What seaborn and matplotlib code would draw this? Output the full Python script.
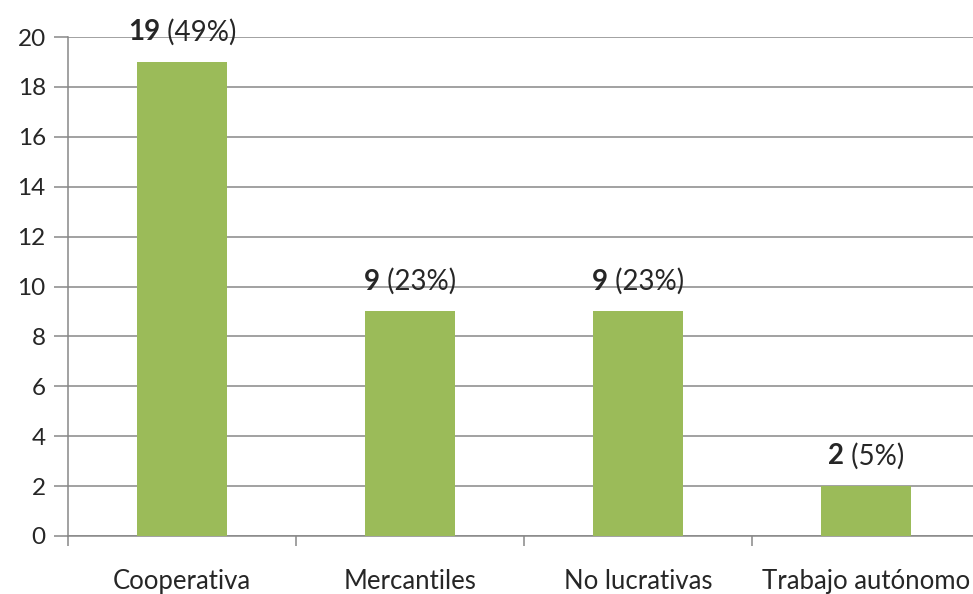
import matplotlib
matplotlib.use('Agg')
import matplotlib.pyplot as plt
import seaborn as sns
import pandas as pd

# chart data
categories = ['Cooperativa', 'Mercantiles', 'No lucrativas', 'Trabajo autónomo']
counts = [19, 9, 9, 2]
percents = [49, 23, 23, 5]

sns.set_style('white')
plt.rcParams['font.family'] = ['Lato', 'DejaVu Sans']

df = pd.DataFrame({'tipo': categories, 'n': counts})

fig = plt.figure(figsize=(9.73, 5.94), dpi=100)
ax = fig.add_axes([68 / 973, 58 / 594, 912 / 973, 499 / 594])

sns.barplot(data=df, x='tipo', y='n', color='#9BBB59', saturation=1,
            width=0.395, linewidth=0, ax=ax, zorder=3)

ax.set_xlim(-0.5, len(categories) - 0.5)
ax.set_ylim(0, 20)
ax.set_yticks(range(0, 21, 2))
ax.yaxis.grid(True, color='#878787', linewidth=1.1, zorder=0)
ax.set_axisbelow(True)
ax.set_xlabel('')
ax.set_ylabel('')

for side in ['top', 'right']:
    ax.spines[side].set_visible(False)
ax.spines['left'].set_color('#878787')
ax.spines['bottom'].set_color('#878787')
ax.spines['left'].set_linewidth(1.1)
ax.spines['bottom'].set_linewidth(1.1)

# category labels centered, tick marks between categories (Excel style)
ax.set_xticks([i - 0.5 for i in range(len(categories))])
ax.set_xticklabels([])
ax.set_xticks(range(len(categories)), minor=True)
ax.set_xticklabels(categories, minor=True, fontsize=18.5)
ax.tick_params(axis='x', which='major', length=7, color='#878787', width=1.1,
               direction='out', bottom=True)
ax.tick_params(axis='x', which='minor', length=0, pad=24)
ax.tick_params(axis='y', length=10, color='#878787', width=1.1, direction='out',
               left=True, labelsize=17.5, pad=6)

# value labels: bold count + normal percentage
fig.canvas.draw()
renderer = fig.canvas.get_renderer()
for i, (n, p) in enumerate(zip(counts, percents)):
    t1 = ax.annotate(str(n), xy=(i, n), xytext=(0, 12), textcoords='offset points',
                     ha='left', va='bottom', fontsize=20, fontweight='bold')
    t2 = ax.annotate(' (%d%%)' % p, xy=(i, n), xytext=(0, 12), textcoords='offset points',
                     ha='left', va='bottom', fontsize=20)
    w1 = t1.get_window_extent(renderer).width
    w2 = t2.get_window_extent(renderer).width
    total = (w1 + w2) * 72 / fig.dpi
    t1.set_position((-total / 2, 12))
    t2.set_position((-total / 2 + w1 * 72 / fig.dpi, 12))

fig.savefig('out.png', dpi=100)
